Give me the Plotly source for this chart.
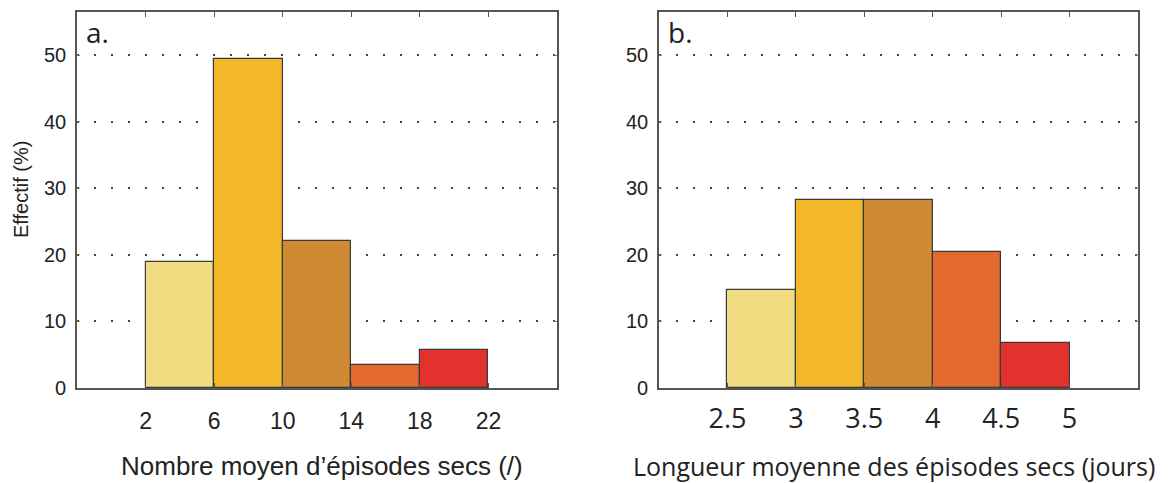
import plotly.graph_objects as go

# page body has an 8px margin, so the figure is drawn 8px in from the top-left
OFF = 8
W, H = 1170 - OFF, 483 - OFF

# panel a: nombre moyen d'episodes secs
a_edges = [2, 6, 10, 14, 18, 22]
a_vals = [18.9, 49.5, 22.1, 3.5, 5.7]
a_ticks = ["2", "6", "10", "14", "18", "22"]

# panel b: longueur moyenne des episodes secs
b_edges = [2.5, 3, 3.5, 4, 4.5, 5]
b_vals = [14.7, 28.3, 28.3, 20.5, 6.8]
b_ticks = ["2.5", "3", "3.5", "4", "4.5", "5"]

y_ticks = [0, 10, 20, 30, 40, 50]
colors = ["#F2DC82", "#F3B72A", "#CE8B33", "#E3692F", "#E3312D"]

xa = (77, 557)
xb = (659, 1138)
y_top, y_bot = 12, 388


def px_x(p):
    return (p - OFF) / W


def px_y(p):
    return 1 - (p - OFF) / H


fig = go.Figure()

for edges, vals, ax in [(a_edges, a_vals, "x"), (b_edges, b_vals, "x2")]:
    centers = [(edges[i] + edges[i + 1]) / 2 for i in range(len(vals))]
    widths = [edges[i + 1] - edges[i] for i in range(len(vals))]
    fig.add_trace(go.Bar(x=centers, y=vals, width=widths, xaxis=ax,
                         yaxis="y" if ax == "x" else "y2",
                         marker=dict(color=colors, line=dict(color="#3a3a3a", width=1.2)),
                         showlegend=False))

xcommon = dict(showline=True, linecolor="#555", linewidth=1.6, mirror="ticks",
               ticks="inside", ticklen=5, tickcolor="#555", showgrid=False,
               zeroline=False, automargin=False)
ycommon = dict(showline=True, linecolor="#555", linewidth=1.6, mirror="ticks",
               ticks="inside", ticklen=3, tickcolor="#777", range=[0, 56.5],
               tickvals=y_ticks, showgrid=True, gridcolor="#444", griddash="2px,15px",
               gridwidth=1.8, zeroline=False, automargin=False,
               tickfont=dict(family="Liberation Sans", size=20, color="#222"),
               ticklabelstandoff=5)

fig.update_layout(
    width=W, height=H,
    margin=dict(l=0, r=0, t=0, b=0),
    plot_bgcolor="white", paper_bgcolor="white",
    bargap=0,
    xaxis=dict(domain=[px_x(xa[0]), px_x(xa[1])], range=[-2, 26],
               tickvals=a_edges, ticktext=a_ticks, anchor="y",
               tickfont=dict(family="Liberation Sans", size=23, color="#222"),
               ticklabelstandoff=12, **xcommon),
    yaxis=dict(domain=[px_y(y_bot), px_y(y_top)], anchor="x", **ycommon),
    xaxis2=dict(domain=[px_x(xb[0]), px_x(xb[1])], range=[2.0, 5.5],
                tickvals=b_edges, ticktext=b_ticks, anchor="y2",
                tickfont=dict(family="Open Sans", size=27, color="#222"),
                ticklabelstandoff=6, **xcommon),
    yaxis2=dict(domain=[px_y(y_bot), px_y(y_top)], anchor="x2", **ycommon),
)

fig.add_annotation(text="Nombre moyen d’épisodes secs (/)", x=px_x(322), y=px_y(466),
                   xref="paper", yref="paper", xanchor="center", yanchor="middle",
                   showarrow=False, font=dict(family="Liberation Sans", size=26, color="#222"))
fig.add_annotation(text="Longueur moyenne des épisodes secs (jours)", x=px_x(894), y=px_y(466),
                   xref="paper", yref="paper", xanchor="center", yanchor="middle",
                   showarrow=False, font=dict(family="Open Sans", size=25, color="#222"))
fig.add_annotation(text="Effectif (%)", x=px_x(21), y=px_y(190), textangle=-90,
                   xref="paper", yref="paper", xanchor="center", yanchor="middle",
                   showarrow=False, font=dict(family="Liberation Sans", size=20, color="#222"))
fig.add_annotation(text="a.", x=px_x(84), y=px_y(32), xanchor="left", yanchor="middle",
                   xref="paper", yref="paper", showarrow=False,
                   font=dict(family="Open Sans", size=28, color="#222"))
fig.add_annotation(text="b.", x=px_x(666), y=px_y(32), xanchor="left", yanchor="middle",
                   xref="paper", yref="paper", showarrow=False,
                   font=dict(family="Open Sans", size=28, color="#222"))

fig.write_html("out.html")
